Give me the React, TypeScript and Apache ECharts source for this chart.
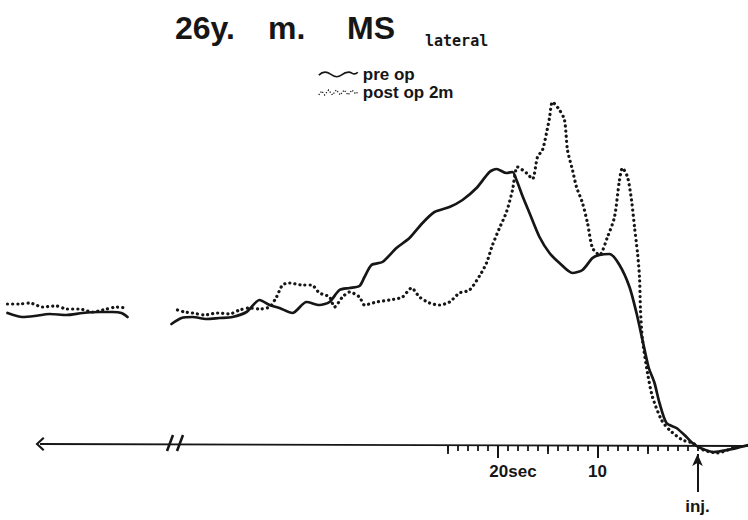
import React, { useEffect, useRef } from "react";
import * as echarts from "echarts";

// time in seconds relative to injection (negative = before), value = relative intensity
const preOpEarly: [number, number][] = [
  [-69.0, 133], [-67.5, 129], [-66.3, 130], [-64.8, 132], [-63.1, 131], [-61.5, 133],
  [-59.8, 134], [-58.5, 134], [-57.6, 133], [-57.0, 129],
];
const preOpMain: [number, number][] = [
  [-52.6, 122], [-51.6, 128], [-50.5, 129], [-49.1, 127], [-47.8, 128], [-46.5, 129],
  [-45.1, 134], [-43.8, 146], [-42.8, 141], [-41.8, 138], [-40.5, 133], [-39.1, 144],
  [-37.8, 141], [-36.8, 144], [-35.8, 156], [-34.8, 158], [-33.8, 160], [-33.3, 169],
  [-32.6, 181], [-31.5, 184], [-30.1, 198], [-28.8, 208], [-27.5, 223], [-26.3, 234],
  [-24.8, 239], [-23.5, 246], [-22.1, 258], [-20.8, 274], [-20.1, 277], [-19.1, 273],
  [-18.5, 274], [-18.1, 266], [-17.5, 250], [-16.8, 233], [-15.8, 209], [-14.8, 193],
  [-13.8, 183], [-12.5, 173], [-11.5, 176], [-10.5, 188], [-9.8, 191], [-8.8, 192],
  [-7.8, 181], [-6.8, 159], [-6.1, 133], [-5.5, 106], [-4.9, 79], [-4.3, 63],
  [-3.8, 43], [-3.1, 23], [-2.1, 18], [-1.1, 9], [-0.5, 3], [0.3, -2],
  [1.6, -6], [3.0, -4], [4.3, -1], [5.1, 1],
];
const postOpEarly: [number, number][] = [
  [-69.0, 142], [-67.8, 142], [-66.8, 143], [-65.5, 139], [-64.1, 140], [-63.1, 137],
  [-61.8, 137], [-60.5, 134], [-59.1, 137], [-58.1, 139], [-57.1, 138],
];
const postOpMain: [number, number][] = [
  [-52.0, 136], [-51.3, 134], [-50.5, 133], [-49.3, 131], [-48.0, 133], [-46.8, 132],
  [-45.8, 136], [-44.8, 138], [-43.8, 137], [-42.8, 139], [-42.1, 149], [-41.5, 161],
  [-40.8, 163], [-39.5, 161], [-38.6, 161], [-37.8, 153], [-36.8, 149], [-36.3, 139],
  [-35.5, 149], [-34.8, 154], [-33.8, 149], [-33.3, 141], [-32.1, 144], [-30.8, 146],
  [-29.5, 149], [-28.6, 158], [-27.8, 149], [-26.8, 143], [-25.8, 141], [-24.8, 144],
  [-23.8, 153], [-22.8, 156], [-21.8, 170], [-21.1, 183], [-20.5, 201], [-19.8, 218],
  [-19.1, 234], [-18.5, 256], [-18.0, 279], [-17.1, 273], [-16.5, 267], [-16.0, 289],
  [-15.5, 296], [-15.1, 313], [-14.8, 328], [-14.5, 344], [-13.8, 336], [-13.3, 326],
  [-13.0, 296], [-12.5, 276], [-12.1, 259], [-11.5, 243], [-11.0, 223], [-10.5, 198],
  [-9.8, 191], [-9.0, 209], [-8.3, 229], [-7.8, 266], [-7.5, 278], [-7.0, 269],
  [-6.6, 246], [-6.3, 219], [-6.0, 193], [-5.8, 169], [-5.7, 136], [-5.5, 106],
  [-5.0, 73], [-4.5, 49], [-3.6, 26], [-2.8, 16], [-1.5, 6], [-0.5, 3],
  [0.6, -4], [2.0, -7], [3.6, -2], [4.5, -1],
];

const minorTicks = { min: -25, max: 0, step: 1 };
const mediumTicks = [-25, -15, -5];
const majorTicks = [-20, -10];
const majorLabels = ["20sec", "10"];

const seriesNames = ["pre op", "post op 2m"];
const titleWords = ["26y.", "m.", "MS"];
const subtitle = "lateral";
const injLabel = "inj.";

const INK = "#161616";
const FONT = "Liberation Sans";

const WAVE_SOLID =
  "path://M0,6 C4,2 8,2 12,5 C16,8 19,9 23,6 C27,3 31,2 34,4 C36,5 38,5 40,3";
const WAVE_DOT =
  "path://M0,8 L3,4 L6,8 L10,3 L14,8 L18,3 L22,8 L26,3 L30,8 L34,3 L38,7 L40,5";
const CHEVRON = "path://M7,0 L14,7.5 L12.5,9 L7,3 L1.5,9 L0,7.5 Z";

export default function App() {
  const ref = useRef<HTMLDivElement>(null);

  useEffect(() => {
    document.body.style.margin = "0";
    if (!ref.current) return;
    const chart = echarts.init(ref.current, null, { renderer: "svg" });

    const preData: any[] = [...preOpEarly, [-55, "-"], ...preOpMain];
    const postData: any[] = [...postOpEarly, [-55, "-"], ...postOpMain];

    const titleStyle = { fontFamily: FONT, fontWeight: "bold", fontSize: 32, color: INK };
    const tickAxisBase = {
      type: "value",
      gridIndex: 1,
      position: "bottom",
      min: minorTicks.min,
      max: minorTicks.max,
      axisLine: { show: false },
      splitLine: { show: false },
    };
    const injLabelCfg = {
      show: true,
      position: "start",
      formatter: injLabel,
      fontFamily: FONT,
      fontWeight: "bold",
      fontSize: 17,
      color: INK,
      distance: 6,
    };
    const strokeLine = (width: number) => ({ width, type: "solid", color: INK });

    const option: any = {
      animation: false,
      backgroundColor: "#ffffff",
      title: [
        { text: titleWords[0], left: 175, top: 12, padding: 0, textStyle: titleStyle },
        { text: titleWords[1], left: 268, top: 12, padding: 0, textStyle: titleStyle },
        { text: titleWords[2], left: 347, top: 12, padding: 0, textStyle: titleStyle },
        {
          text: subtitle,
          left: 425,
          top: 33,
          padding: 0,
          textStyle: { fontFamily: "DejaVu Sans Mono", fontWeight: "bold", fontSize: 15, color: INK },
        },
      ],
      legend: {
        left: 318,
        top: 66,
        orient: "vertical",
        padding: 0,
        itemGap: 1,
        itemWidth: 39,
        itemHeight: 10,
        selectedMode: false,
        textStyle: { fontFamily: FONT, fontWeight: "bold", fontSize: 17, color: INK, lineHeight: 17 },
        data: [
          {
            name: seriesNames[0],
            icon: WAVE_SOLID,
            itemStyle: { color: "rgba(0,0,0,0)", borderColor: INK, borderWidth: 1.6 },
          },
          {
            name: seriesNames[1],
            icon: WAVE_DOT,
            itemStyle: {
              color: "rgba(0,0,0,0)",
              borderColor: INK,
              borderWidth: 1.3,
              borderType: [1.2, 1.8],
            },
          },
        ],
      },
      grid: [
        { left: 0, right: 0, top: 0, bottom: 0 },
        { left: 447.5, right: 50.5, top: 0, bottom: 74 },
      ],
      xAxis: [
        { type: "value", gridIndex: 0, min: -69.75, max: 5.05, show: false },
        {
          ...tickAxisBase,
          interval: minorTicks.step,
          axisLabel: { show: false },
          axisTick: { show: true, length: 5, lineStyle: { color: INK, width: 1.8 } },
        },
        {
          ...tickAxisBase,
          axisLabel: { show: false },
          axisTick: { show: true, length: 8, customValues: mediumTicks, lineStyle: { color: INK, width: 1.8 } },
        },
        {
          ...tickAxisBase,
          axisTick: { show: true, length: 12, customValues: majorTicks, lineStyle: { color: INK, width: 2 } },
          axisLabel: {
            show: true,
            customValues: majorTicks,
            margin: 17,
            formatter: (v: number) => {
              const i = majorTicks.indexOf(v);
              const t = i >= 0 ? majorLabels[i] : "";
              return i === 0 ? "{pad| }{n|" + t + "}" : "{n|" + t + "}";
            },
            rich: {
              n: { fontFamily: FONT, fontWeight: "bold", fontSize: 17, color: INK },
              pad: { width: 31, fontSize: 17 },
            },
          },
        },
      ],
      yAxis: [
        { type: "value", gridIndex: 0, min: -74, max: 446, show: false },
        { type: "value", gridIndex: 1, min: 0, max: 1, show: false },
      ],
      series: [
        {
          name: seriesNames[0],
          type: "line",
          data: preData,
          symbol: "none",
          showSymbol: false,
          smooth: 0.25,
          clip: false,
          z: 3,
          lineStyle: { color: INK, width: 2.7, cap: "round", join: "round" },
          itemStyle: { color: INK },
          markLine: {
            silent: true,
            animation: false,
            symbol: "none",
            label: { show: false },
            emphasis: { disabled: true },
            lineStyle: strokeLine(1.8),
            itemStyle: { color: INK },
            data: [
              [
                { coord: [-65.75, 2], symbol: CHEVRON, symbolSize: [14, 9] },
                { coord: [5.05, 0], symbol: "none" },
              ],
              [
                { coord: [-53.05, -5], symbol: "none", lineStyle: strokeLine(2.6) },
                { coord: [-52.45, 11], symbol: "none", lineStyle: strokeLine(2.6) },
              ],
              [
                { coord: [-52.05, -5], symbol: "none", lineStyle: strokeLine(2.6) },
                { coord: [-51.45, 11], symbol: "none", lineStyle: strokeLine(2.6) },
              ],
              [
                { coord: [0, -46], symbol: "none", label: injLabelCfg, lineStyle: strokeLine(2) },
                { coord: [0, -8], symbol: "arrow", symbolSize: [8, 12], label: injLabelCfg, lineStyle: strokeLine(2) },
              ],
            ],
          },
        },
        {
          name: seriesNames[1],
          type: "line",
          data: postData,
          symbol: "none",
          showSymbol: false,
          smooth: 0.25,
          clip: false,
          z: 2,
          lineStyle: { color: INK, width: 3.2, type: [0.1, 5], cap: "round", join: "round" },
          itemStyle: { color: INK },
        },
      ],
    };

    chart.setOption(option);
    return () => chart.dispose();
  }, []);

  return <div ref={ref} style={{ width: 748, height: 520 }} />;
}
